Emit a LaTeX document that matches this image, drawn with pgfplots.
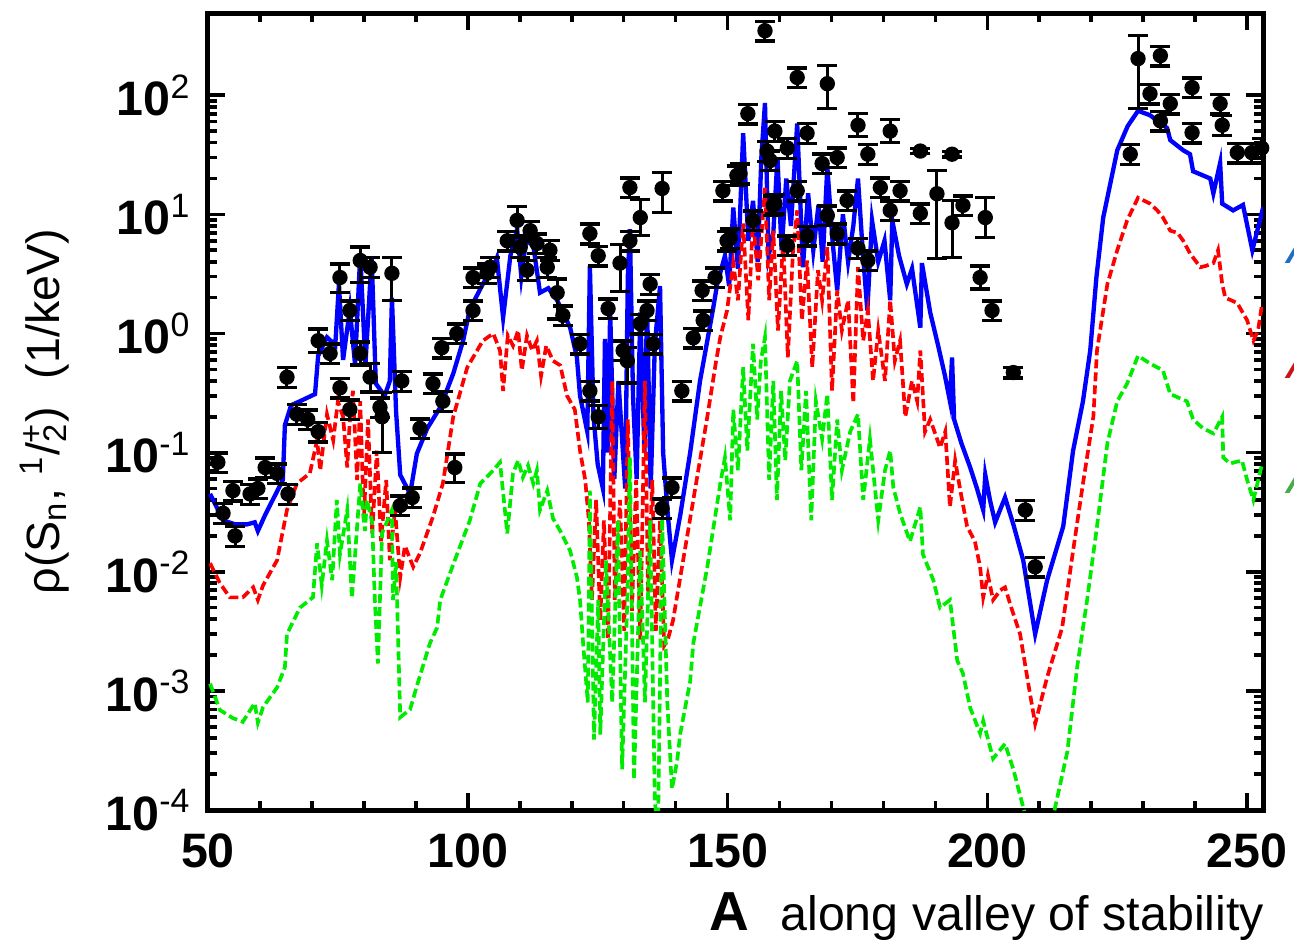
\documentclass[border=0pt]{standalone}
\usepackage{fontspec}
\setmainfont{Liberation Sans}
\usepackage{pgfplots}
\usepackage{pgfplotstable}
\pgfplotsset{compat=1.18}

\pgfplotstableread{
x y
50.4 0.045
51.0 0.040
52.9 0.027
55.2 0.025
57.5 0.025
59.0 0.026
59.6 0.022
61.0 0.030
64.4 0.059
64.8 0.17
66.0 0.25
67.7 0.27
70.6 0.31
71.2 0.65
72.9 0.93
74.5 0.80
75.2 2.6
76.0 0.60
77.3 1.6
78.3 0.55
79.3 4.6
80.3 0.55
81.5 4.4
82.3 0.38
84.0 0.30
85.0 0.40
85.4 2.0
86.2 0.22
87.0 0.065
88.9 0.045
90.2 0.098
92.2 0.16
94.7 0.24
97.2 0.46
99.1 0.87
100.4 1.6
102.9 2.6
104.9 3.6
105.6 4.3
106.8 1.36
108.2 4.5
109.5 7.5
110.3 3.0
111.2 6.0
112.6 5.5
113.9 2.2
115.5 2.4
117.2 1.9
119.7 1.12
121.0 0.63
121.6 0.30
123.0 0.15
123.5 3.7
124.2 0.20
125.0 0.08
126.0 0.05
126.4 0.9
127.0 0.10
127.4 1.6
128.2 0.06
129.0 0.4
130.3 0.05
130.8 3.0
131.2 7.5
131.8 0.3
132.5 0.06
133.2 1.5
134.0 0.10
134.5 1.8
135.2 0.05
136.0 0.8
137.0 2.5
137.6 0.10
138.5 0.03
139.3 0.0125
140.9 0.03
142.8 0.10
144.7 0.40
147.2 1.6
148.0 2.6
149.5 4.5
150.3 2.5
151.1 11.4
152.0 3.5
153.0 48
154.0 6
154.9 13
155.8 4
156.5 30
157.2 86
157.9 4.5
158.8 6.9
159.6 30
160.4 5
161.3 20
162.2 8
163.4 58
164.5 3.6
165.5 15
166.5 5
167.5 12
168.3 4
169.2 25
170.2 6
171.1 2.3
172.2 10
173.2 4
174.2 8
175.1 20
176.0 5
176.9 1.56
177.8 8.9
179.0 4
180.2 6
181.3 1.9
181.7 8.9
183.0 4.5
184.5 2.6
185.5 3.5
187.1 1.12
187.4 3.9
189.0 1.5
190.5 0.8
191.8 0.45
192.8 0.27
193.2 0.63
193.6 0.19
195.0 0.12
196.7 0.075
198.0 0.05
199.2 0.033
199.6 0.065
200.5 0.04
201.5 0.026
203.4 0.042
205.0 0.025
206.9 0.0125
209.2 0.0030
211.5 0.0085
214.6 0.024
216.5 0.104
218.4 0.27
219.8 0.72
221.0 3
222.3 9.4
225.0 34.5
227.0 55
229.0 74
231.3 68
234.6 53
235.2 42
237.7 34.5
239.0 32
239.6 23
242.9 20
243.5 15
244.8 27
245.2 12.3
247.3 10.8
249.2 12
251.0 5.0
253.1 11.5
}\bluedata

\pgfplotstableread{
x y
50.4 0.0118
52.3 0.0080
54.2 0.0061
56.7 0.0061
58.7 0.0074
59.6 0.0058
60.6 0.0077
63.3 0.0125
65.2 0.033
67.1 0.055
69.6 0.067
71.0 0.127
71.6 0.071
72.9 0.21
74.1 0.127
75.0 0.27
76.0 0.20
76.8 0.075
77.3 0.19
77.9 0.33
78.7 0.059
79.3 0.27
80.0 0.027
80.8 0.19
81.6 0.021
82.5 0.104
83.3 0.018
84.3 0.059
85.0 0.0125
86.0 0.033
87.0 0.0090
87.9 0.0165
89.5 0.011
90.8 0.0143
93.3 0.029
95.2 0.055
97.2 0.20
99.9 0.52
102.9 0.87
104.9 1.0
106.2 0.72
106.8 0.33
107.7 0.96
108.7 0.79
109.7 1.06
110.4 0.49
111.4 0.96
112.4 0.72
113.3 0.87
114.1 0.44
115.1 0.79
116.4 0.59
117.8 0.54
119.1 0.30
120.6 0.23
121.6 0.104
122.6 0.059
123.3 0.027
123.9 0.0058
124.7 0.040
125.5 0.0039
126.2 0.027
127.0 0.0027
127.8 0.40
128.3 0.0058
129.3 0.040
130.1 0.0032
130.8 0.19
131.6 0.0047
132.4 0.059
133.2 0.0027
134.1 0.40
134.7 0.0058
135.5 0.059
136.2 0.0032
137.0 0.027
137.8 0.0024
138.5 0.0027
139.5 0.0039
140.9 0.0090
143.4 0.040
146.1 0.20
147.8 0.59
148.6 0.93
149.9 1.56
151.1 3.9
152.0 1.9
153.0 8.4
154.0 1.29
154.9 9.4
155.9 2.8
157.2 16.7
158.0 1.9
158.8 7.3
159.7 1.06
160.7 6.0
161.6 0.63
162.6 5.0
163.4 10.8
164.3 1.29
165.3 4.1
166.3 0.52
167.4 3.4
168.2 1.9
169.2 5.3
170.1 0.33
171.1 2.3
172.0 1.06
173.2 1.9
174.2 0.26
175.1 3.6
176.1 0.87
177.0 1.56
178.0 0.40
179.0 1.06
180.3 0.40
181.3 1.9
182.2 0.59
183.2 0.87
184.2 0.20
185.5 0.40
186.5 0.27
187.1 0.72
188.0 0.15
189.0 0.19
190.9 0.11
191.9 0.15
192.8 0.035
193.8 0.086
194.8 0.048
196.1 0.024
197.6 0.018
198.6 0.011
199.2 0.0061
200.1 0.0094
201.1 0.0058
202.5 0.0070
203.4 0.0074
204.8 0.0047
206.3 0.0030
207.8 0.0012
209.2 0.00053
211.5 0.0013
214.4 0.0034
216.5 0.015
218.4 0.055
220.4 0.20
221.1 0.72
223.1 2.6
225.0 5.0
226.9 8.9
229.0 13.8
231.3 12.3
232.7 10.8
233.8 9.4
235.2 7.3
236.6 7.0
237.7 6.0
239.0 4.7
241.0 3.6
242.1 3.7
243.5 3.9
244.4 5.0
245.2 2.6
245.8 2.0
248.1 1.8
250.0 1.29
251.2 0.87
252.1 1.06
252.9 1.8
}\reddata

\pgfplotstableread{
x y
50.4 0.00115
52.3 0.00069
54.8 0.00059
56.7 0.00055
59.0 0.00079
59.6 0.00054
60.6 0.00073
63.3 0.00107
64.8 0.00158
65.2 0.0030
67.7 0.0050
70.2 0.0061
71.0 0.0173
71.9 0.0077
72.9 0.0183
73.9 0.0085
74.8 0.040
75.4 0.014
76.8 0.033
77.7 0.0060
79.3 0.055
80.2 0.022
80.6 0.040
81.6 0.026
82.1 0.006
82.7 0.0017
83.5 0.021
85.4 0.033
85.6 0.0058
86.2 0.012
87.0 0.0006
88.9 0.0007
90.2 0.0011
92.7 0.0025
94.1 0.0034
94.7 0.0058
97.5 0.0125
100.4 0.027
102.4 0.055
104.9 0.071
106.2 0.083
107.6 0.021
108.7 0.067
109.7 0.086
110.6 0.062
111.6 0.078
112.6 0.055
113.3 0.071
113.9 0.033
115.3 0.048
116.4 0.028
117.8 0.022
119.7 0.015
121.0 0.0090
121.6 0.0058
122.2 0.0025
123.1 0.0008
123.5 0.048
124.3 0.00039
125.1 0.0058
125.5 0.00043
126.6 0.0125
127.8 0.0008
128.9 0.027
129.7 0.00022
130.7 0.0058
131.2 0.091
132.0 0.00018
133.2 0.015
134.1 0.0008
135.1 0.027
136.0 0.00012
136.6 0.00006
137.4 0.028
138.4 0.0008
139.3 0.00015
140.3 0.00026
140.9 0.00044
142.8 0.0012
143.4 0.0025
146.1 0.011
148.6 0.055
149.5 0.091
150.5 0.027
151.1 0.23
152.0 0.071
153.0 0.52
153.8 0.104
154.9 0.82
155.7 0.19
156.4 0.59
157.2 0.93
158.0 0.059
158.8 0.40
159.5 0.040
160.3 0.33
161.1 0.086
162.0 0.40
163.4 0.59
164.2 0.071
165.1 0.33
166.1 0.027
167.0 0.27
168.2 0.13
169.2 0.31
170.1 0.04
171.1 0.19
172.0 0.071
173.6 0.15
175.1 0.21
176.1 0.040
177.4 0.13
179.0 0.027
180.3 0.071
181.3 0.104
181.9 0.051
183.2 0.031
185.1 0.018
187.1 0.035
187.6 0.014
189.6 0.0085
190.9 0.0050
192.8 0.0058
194.2 0.0018
195.3 0.0014
196.7 0.00072
198.6 0.00044
199.2 0.00056
201.1 0.00027
203.4 0.00036
205.0 0.00022
207.3 0.00009
212.7 0.00009
215.4 0.00031
217.3 0.0016
219.2 0.0058
221.1 0.024
223.1 0.12
225.0 0.27
226.9 0.38
229.0 0.65
231.3 0.56
233.8 0.49
235.2 0.31
238.4 0.27
239.6 0.19
241.5 0.16
243.5 0.145
245.2 0.20
245.4 0.091
246.7 0.081
249.0 0.086
250.0 0.059
251.2 0.040
252.9 0.081
}\greendata

\pgfplotstableread{
x y ep em
51.9 0.083 0.2 0.18
52.9 0.031 0.2 0.18
54.8 0.048 0.2 0.18
55.2 0.020 0.2 0.18
58.1 0.045 0.2 0.18
59.6 0.050 0.2 0.18
61.0 0.075 0.2 0.18
63.3 0.067 0.2 0.18
65.2 0.43 0.2 0.18
65.4 0.045 0.2 0.18
67.1 0.21 0.2 0.18
69.2 0.19 0.2 0.18
71.2 0.15 0.2 0.18
71.2 0.87 0.25 0.2
73.5 0.68 0.2 0.18
75.4 2.95 0.3 0.25
75.4 0.35 0.2 0.18
77.3 1.56 0.2 0.18
77.3 0.23 0.2 0.18
79.3 4.1 0.3 0.35
79.3 0.68 0.25 0.2
81.2 3.6 0.2 0.18
81.2 0.43 0.3 0.25
83.1 0.24 0.2 0.18
83.5 0.20 0.59 0.5
85.4 3.2 0.36 0.41
87.3 0.40 0.2 0.18
87.0 0.036 0.2 0.18
89.3 0.042 0.2 0.18
90.8 0.16 0.2 0.18
93.3 0.38 0.2 0.18
95.0 0.76 0.2 0.18
95.2 0.27 0.2 0.18
97.5 0.075 0.3 0.25
97.9 1.0 0.2 0.18
101.0 1.56 0.2 0.18
101.0 2.95 0.2 0.18
103.7 3.2 0.2 0.18
104.3 3.6 0.2 0.18
107.6 6.0 0.2 0.18
109.5 8.9 0.3 0.25
110.1 5.3 0.2 0.18
111.4 3.4 0.2 0.18
112.0 7.3 0.2 0.18
113.3 5.7 0.2 0.18
115.3 3.6 0.2 0.18
115.8 5.0 0.2 0.18
117.2 2.2 0.3 0.4
118.3 1.42 0.2 0.18
121.6 0.82 0.2 0.18
123.5 6.9 0.2 0.18
125.1 4.5 0.2 0.18
123.5 0.33 0.2 0.18
125.1 0.20 0.25 0.2
127.0 1.62 0.2 0.18
129.3 3.9 0.44 0.42
131.2 16.8 0.2 0.18
133.2 9.4 0.42 0.29
131.2 6.0 0.2 0.18
137.4 16.5 0.36 0.37
135.1 2.6 0.2 0.18
134.5 1.56 0.2 0.18
133.2 1.21 0.2 0.18
135.7 0.82 0.2 0.18
129.9 0.72 0.2 0.18
130.7 0.59 0.3 0.35
141.2 0.33 0.2 0.18
139.3 0.051 0.2 0.18
137.4 0.034 0.2 0.18
143.4 0.92 0.2 0.18
145.1 2.3 0.2 0.18
147.6 2.95 0.2 0.18
149.9 6.0 0.2 0.18
149.1 15.8 0.2 0.18
151.8 21.2 0.2 0.18
154.9 8.9 0.2 0.18
158.8 11.9 0.2 0.18
158.2 28.3 0.2 0.18
157.2 348 0.2 0.18
163.4 141 0.2 0.18
169.2 125 0.42 0.38
153.9 70 0.2 0.18
159.1 50 0.2 0.18
165.3 48 0.2 0.18
175.1 56 0.25 0.2
181.3 50 0.25 0.2
187.1 34 0.05 0.05
193.2 32 0.05 0.05
157.6 34 0.2 0.18
161.5 36 0.2 0.18
171.1 30 0.2 0.18
168.2 26.7 0.2 0.18
177.0 32 0.2 0.18
152.4 22 0.2 0.18
163.4 15.8 0.2 0.18
159.1 12.3 0.2 0.18
173.0 13.1 0.2 0.18
179.4 16.8 0.2 0.18
183.2 15.8 0.2 0.18
181.3 10.8 0.2 0.18
187.1 10.2 0.2 0.18
190.3 14.9 0.56 0.715
195.3 11.9 0.2 0.18
199.6 9.4 0.47 0.32
169.2 9.8 0.2 0.18
193.2 8.5 0.53 0.49
150.5 6.3 0.2 0.18
161.5 5.5 0.2 0.18
165.3 6.6 0.2 0.18
171.1 6.9 0.2 0.18
175.1 5.2 0.2 0.18
177.0 4.1 0.2 0.18
145.3 1.29 0.2 0.18
198.6 2.95 0.25 0.2
200.9 1.56 0.2 0.18
205.0 0.47 0.1 0.1
207.3 0.033 0.2 0.18
209.2 0.011 0.2 0.18
227.5 32 0.2 0.18
229.0 203 0.56 0.62
233.3 215 0.2 0.18
231.3 103 0.2 0.18
239.4 116 0.2 0.18
235.2 85 0.2 0.18
244.8 85 0.2 0.18
233.3 61 0.2 0.18
239.4 48.5 0.2 0.18
245.2 56 0.2 0.18
248.1 33 0.2 0.18
250.9 33 0.2 0.18
252.8 36 0.2 0.18
}\expdata

\definecolor{cblue}{RGB}{0,0,255}
\definecolor{cred}{RGB}{255,0,0}
\definecolor{cgreen}{RGB}{0,235,0}

\begin{document}
\begin{tikzpicture}
\useasboundingbox (-62.4pt,-41.7pt) rectangle (325.8pt,243pt);
\begin{axis}[
  at={(0pt,0pt)}, anchor=south west, scale only axis,
  width=316.5pt, height=239.1pt,
  xmin=50, xmax=253.05,
  ymode=log, ymin=1e-4, ymax=490,
  axis line style={line width=1.5pt},
  tick style={line width=1.1pt, black},
  tick align=inside,
  major tick length=5pt, minor tick length=2.7pt,
  xtick={50,100,150,200,250},
  xticklabels={\textbf{50},\textbf{100},\textbf{150},\textbf{200},\textbf{250}},
  minor x tick num=4,
  ytick={1e-4,1e-3,1e-2,1e-1,1,10,100},
  yticklabels={\textbf{10}\textsuperscript{-4},\textbf{10}\textsuperscript{-3},\textbf{10}\textsuperscript{-2},\textbf{10}\textsuperscript{-1},\textbf{10}\textsuperscript{0},\textbf{10}\textsuperscript{1},\textbf{10}\textsuperscript{2}},
  ticklabel style={font=\fontsize{14.5}{17}\selectfont},
  xticklabel style={yshift=-3.6pt},
  yticklabel style={xshift=-1.5pt},
  xlabel={{\fontsize{16.5}{17}\selectfont\textbf{A}}\hspace{0.65em}along valley of stability},
  xlabel style={font=\fontsize{14.5}{17}\selectfont, at={(rel axis cs:1,0)}, anchor=north east, inner sep=0pt, yshift=-24.5pt, xshift=0.5pt},
  ylabel={ρ(S\textsubscript{n}, \textsuperscript{1}/\textsubscript{2}\llap{\textsuperscript{+}})\hspace{0.6em}(1/keV)},
  ylabel style={font=\fontsize{14}{17}\selectfont, at={(rel axis cs:0,0.5)}, anchor=center, yshift=49pt},
  clip=true,
]
\addplot[cblue, line width=1.3pt, no marks] table[x=x,y=y] {\bluedata};
\addplot[cred, line width=1.1pt, dash pattern=on 2.7pt off 1.2pt, no marks] table[x=x,y=y] {\reddata};
\addplot[cgreen, line width=1.1pt, dash pattern=on 2.7pt off 1.2pt, no marks] table[x=x,y=y] {\greendata};
\addplot[only marks, black, mark=*, mark size=2.1pt,
  error bars/.cd, y dir=both, y explicit relative,
  error mark=-,
  error bar style={line width=0.9pt, black},
  error mark options={rotate=90, line width=1pt, mark size=3pt, black}]
  table[x=x, y=y, y error plus=ep, y error minus=em] {\expdata};
\end{axis}
\node[anchor=base west, inner sep=0pt, text={rgb,255:red,30;green,110;blue,200}, font=\itshape\fontsize{14.5}{17}\selectfont] at (323.7pt,164.1pt) {A};
\node[anchor=base west, inner sep=0pt, text={rgb,255:red,200;green,20;blue,20}, font=\itshape\fontsize{14.5}{17}\selectfont] at (323.7pt,129.6pt) {A};
\node[anchor=base west, inner sep=0pt, text={rgb,255:red,70;green,170;blue,70}, font=\itshape\fontsize{14.5}{17}\selectfont] at (323.7pt,95.1pt) {A};
\end{tikzpicture}
\end{document}
